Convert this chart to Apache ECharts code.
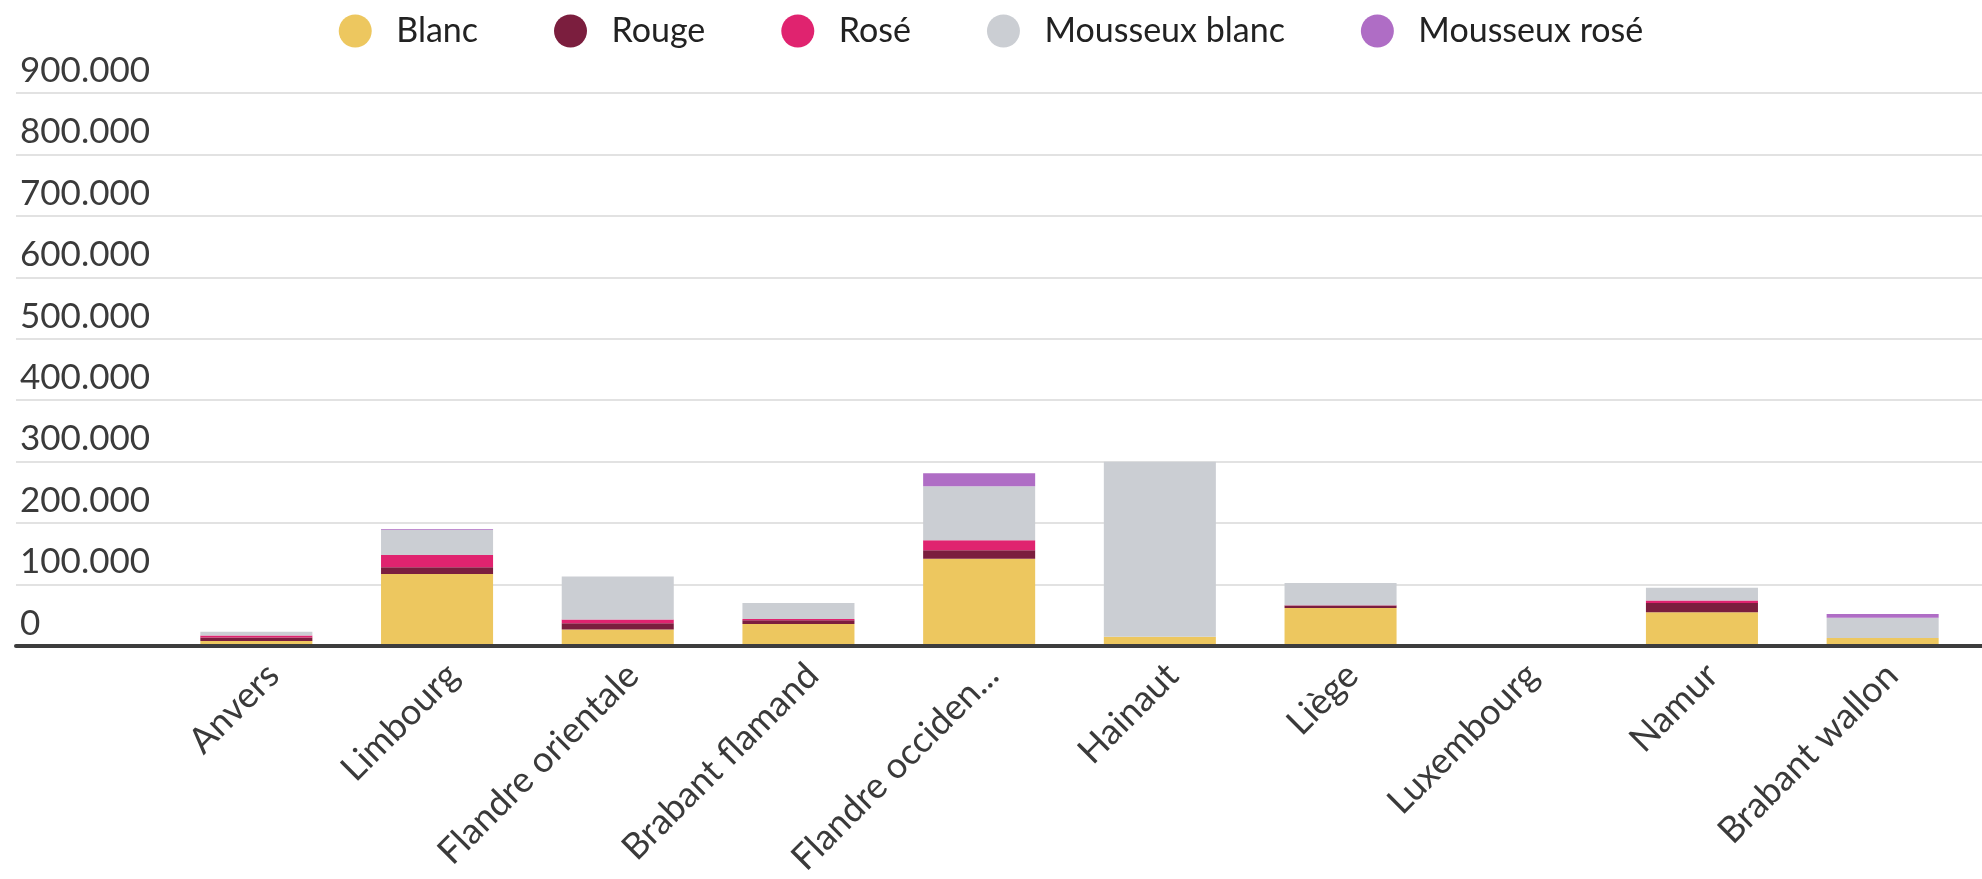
<!DOCTYPE html>
<html>
<head>
<meta charset="utf-8">
<script src="https://cdn.jsdelivr.net/npm/echarts@6/dist/echarts.min.js"></script>
<style>
  html, body { margin: 0; padding: 0; background: #fff; }
  #chart { width: 1982px; height: 879px; }
</style>
</head>
<body>
<div id="chart"></div>
<script>
const categories = ['Anvers', 'Limbourg', 'Flandre orientale', 'Brabant flamand', 'Flandre occiden...', 'Hainaut', 'Liège', 'Luxembourg', 'Namur', 'Brabant wallon'];
const seriesNames = ['Blanc', 'Rouge', 'Rosé', 'Mousseux blanc', 'Mousseux rosé'];
const blanc         = [8000, 117000, 27000, 36000, 142000, 15000, 62000, 0, 55000, 13000];
const rouge         = [6000, 11000, 10000, 6000, 14000, 0, 4000, 0, 15000, 0];
const rose          = [3000, 20000, 6000, 2000, 16000, 0, 500, 0, 4000, 0];
const mousseuxBlanc = [6000, 41000, 70000, 26000, 88000, 285000, 36000, 0, 21000, 33000];
const mousseuxRose  = [0, 1500, 0, 0, 21000, 0, 0, 0, 0, 6000];
const tickLabels = ['0', '100.000', '200.000', '300.000', '400.000', '500.000', '600.000', '700.000', '800.000', '900.000'];
const colors = ['#EDC75F', '#7B1E3E', '#E0236F', '#CBCED3', '#AF6DC5'];

const seriesValues = [blanc, rouge, rose, mousseuxBlanc, mousseuxRose];
const yMax = 900000, yStep = 100000;
const FONT = 'Lato';

const chart = echarts.init(document.getElementById('chart'), null, { renderer: 'canvas' });
const gridTop = 93, gridBottom = 233;

chart.setOption({
  animation: false,
  backgroundColor: '#ffffff',
  color: colors,
  legend: {
    top: 9,
    left: 'center',
    icon: 'circle',
    itemWidth: 72,
    itemHeight: 33,
    itemGap: 76,
    data: seriesNames,
    textStyle: { fontFamily: FONT, fontSize: 34, color: '#222' }
  },
  grid: [
    { left: 16, right: 0, top: gridTop, bottom: gridBottom },
    { left: 166, width: 1807, top: gridTop, bottom: gridBottom },
    { left: 183, width: 1807, top: gridTop, bottom: gridBottom }
  ],
  xAxis: [
    {
      gridIndex: 0, type: 'value', min: 0, max: 1, z: 10,
      axisLine: { show: true, lineStyle: { color: '#3d3d3d', width: 4 } },
      axisTick: { show: false }, axisLabel: { show: false }, splitLine: { show: false }
    },
    {
      gridIndex: 1, type: 'category', data: categories, show: false
    },
    {
      gridIndex: 2, type: 'category', data: categories,
      axisLine: { show: false }, axisTick: { show: false }, splitLine: { show: false },
      axisLabel: {
        interval: 0, rotate: 45, margin: 34,
        fontFamily: FONT, fontSize: 36, color: '#3a3a3a'
      }
    }
  ],
  yAxis: [
    {
      gridIndex: 0, type: 'value', min: 0, max: yMax, interval: yStep,
      axisLine: { show: false }, axisTick: { show: false },
      splitLine: { show: true, lineStyle: { color: '#d9d9d9', width: 1.5 } },
      axisLabel: {
        inside: true, margin: 4, verticalAlign: 'bottom', padding: [0, 0, 5, 0],
        fontFamily: FONT, fontSize: 35, color: '#3a3a3a',
        formatter: function (v) { return tickLabels[Math.round(v / yStep)]; }
      }
    },
    { gridIndex: 1, type: 'value', min: 0, max: yMax, show: false },
    { gridIndex: 2, type: 'value', min: 0, max: 1, show: false }
  ],
  series: seriesNames.map(function (name, i) {
    return {
      name: name,
      type: 'bar',
      stack: 'total',
      xAxisIndex: 1,
      yAxisIndex: 1,
      barCategoryGap: '38%',
      data: seriesValues[i],
      itemStyle: { color: colors[i] }
    };
  })
});
</script>
</body>
</html>
